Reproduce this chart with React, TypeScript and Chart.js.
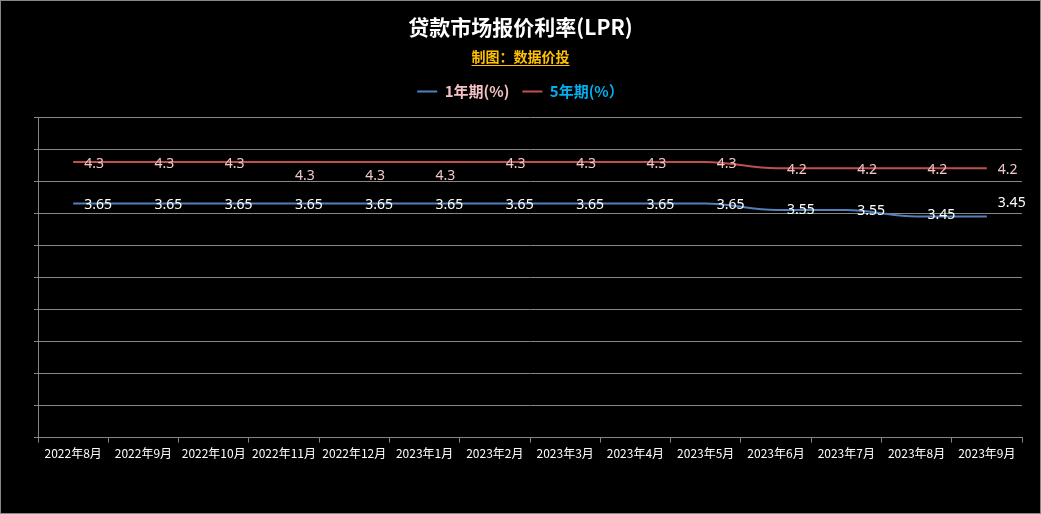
import React, { useEffect, useRef } from "react";
import { Chart, registerables } from "chart.js";

Chart.register(...registerables);

const categories = [
  "2022年8月", "2022年9月", "2022年10月", "2022年11月", "2022年12月", "2023年1月", "2023年2月",
  "2023年3月", "2023年4月", "2023年5月", "2023年6月", "2023年7月", "2023年8月", "2023年9月",
];
const lpr1y = [3.65, 3.65, 3.65, 3.65, 3.65, 3.65, 3.65, 3.65, 3.65, 3.65, 3.55, 3.55, 3.45, 3.45];
const lpr5y = [4.3, 4.3, 4.3, 4.3, 4.3, 4.3, 4.3, 4.3, 4.3, 4.3, 4.2, 4.2, 4.2, 4.2];
const seriesNames = ["1年期(%)", "5年期(%）"];
const yMin = 0;
const yMax = 5;
const yStep = 0.5;

// label vertical nudges (pixels) relative to each point, mimicking the original placement
const label1yDy = [1, 1, 1, 1, 1, 1, 1, 1, 1, 1, 0, 1, -1, -13];
const label5yDy = [2, 2, 2, 14, 14, 14, 2, 2, 2, 2, 2, 2, 2, 2];

const FONT = "'Noto Sans', 'Noto Sans CJK SC', sans-serif";
const CJK = "'Noto Sans CJK SC', 'Noto Sans', sans-serif";

const legendSpacer = {
  id: "legendSpacer",
  afterInit(chart: any) {
    const lg = chart.legend;
    if (lg && !lg.__patched) {
      const orig = lg.fit;
      lg.fit = function (this: any) {
        orig.call(this);
        this.height += 8;
      };
      lg.__patched = true;
    }
  },
};

const frameAndLabels = {
  id: "frameAndLabels",
  afterDatasetsDraw(chart: any) {
    const ctx = chart.ctx;
    ctx.save();
    ctx.font = `14px ${FONT}`;
    ctx.textAlign = "left";
    ctx.textBaseline = "middle";
    const specs = [
      { idx: 0, color: "#ffffff", dy: label1yDy },
      { idx: 1, color: "#f4c6c8", dy: label5yDy },
    ];
    specs.forEach((s) => {
      const meta = chart.getDatasetMeta(s.idx);
      const data = chart.data.datasets[s.idx].data;
      meta.data.forEach((pt: any, i: number) => {
        ctx.fillStyle = s.color;
        ctx.fillText(String(data[i]), pt.x + 11, pt.y + s.dy[i]);
      });
    });
    ctx.restore();
  },
  afterDraw(chart: any) {
    const ctx = chart.ctx;
    ctx.save();
    // subtitle underline
    const sub = chart.options.plugins.subtitle;
    ctx.font = `bold 14px ${CJK}`;
    const w = ctx.measureText(sub.text).width;
    const cx = chart.width / 2;
    let y = 65.5;
    const b = (chart.boxes || []).find(
      (bx: any) => bx !== chart.titleBlock && bx.options && bx.options.text === sub.text
    );
    if (b) y = Math.round(b.bottom - sub.padding.bottom) + 0.5;
    ctx.strokeStyle = "#ffc000";
    ctx.lineWidth = 1;
    ctx.beginPath();
    ctx.moveTo(cx - w / 2, y);
    ctx.lineTo(cx + w / 2, y);
    ctx.stroke();
    // outer frame
    ctx.strokeStyle = "#868686";
    ctx.strokeRect(0.5, 0.5, chart.width - 1, chart.height - 1);
    ctx.restore();
  },
};

export default function App() {
  const ref = useRef<HTMLCanvasElement>(null);
  useEffect(() => {
    document.body.style.margin = "0";
    document.body.style.background = "#000";
    const chart = new Chart(ref.current as HTMLCanvasElement, {
      type: "line",
      data: {
        labels: categories,
        datasets: [
          {
            label: seriesNames[0],
            data: lpr1y,
            borderColor: "#4f81bd",
            backgroundColor: "#4f81bd",
            borderWidth: 2,
            pointRadius: 0,
            cubicInterpolationMode: "monotone",
          },
          {
            label: seriesNames[1],
            data: lpr5y,
            borderColor: "#c0504d",
            backgroundColor: "#c0504d",
            borderWidth: 2,
            pointRadius: 0,
            cubicInterpolationMode: "monotone",
          },
        ],
      },
      options: {
        responsive: false,
        animation: false,
        layout: { padding: { left: 19, right: 19, bottom: 49, top: 0 } },
        plugins: {
          title: {
            display: true,
            text: "贷款市场报价利率(LPR)",
            color: "#ffffff",
            font: { family: CJK, size: 21, weight: "bold" },
            padding: { top: 14, bottom: 6 },
          },
          subtitle: {
            display: true,
            text: "制图：数据价投",
            color: "#ffc000",
            font: { family: CJK, size: 14, weight: "bold" },
            padding: { top: 3, bottom: 6 },
          },
          legend: {
            display: true,
            position: "top",
            labels: {
              usePointStyle: true,
              pointStyle: "line",
              pointStyleWidth: 20,
              boxHeight: 15,
              padding: 13,
              font: { family: CJK, size: 15, weight: "bold" },
              generateLabels(chart: any) {
                const items = Chart.defaults.plugins.legend.labels.generateLabels(chart);
                const colors = ["#f4c2c4", "#00b0f0"];
                items.forEach((it: any, i: number) => {
                  it.fontColor = colors[i];
                  it.lineWidth = 2;
                });
                return items;
              },
            },
          },
          tooltip: { enabled: false },
        },
        scales: {
          x: {
            type: "category",
            offset: true,
            grid: {
              offset: true,
              drawOnChartArea: false,
              drawTicks: true,
              tickLength: 5,
              color: "#868686",
            },
            border: { display: true, color: "#868686" },
            ticks: {
              color: "#ffffff",
              font: { family: CJK, size: 12 },
              autoSkip: false,
              maxRotation: 0,
              minRotation: 0,
              padding: 4,
            },
          },
          y: {
            min: yMin,
            max: yMax,
            afterFit(scale: any) {
              scale.width = 19;
            },
            grid: {
              color: "#868686",
              drawTicks: true,
              tickLength: 4,
            },
            border: { display: true, color: "#868686" },
            ticks: { display: false, stepSize: yStep },
          },
        },
      },
      plugins: [legendSpacer, frameAndLabels],
    } as any);
    return () => chart.destroy();
  }, []);
  return (
    <div style={{ width: 1041, height: 514, background: "#000" }}>
      <canvas ref={ref} width={1041} height={514} style={{ display: "block" }} />
    </div>
  );
}
